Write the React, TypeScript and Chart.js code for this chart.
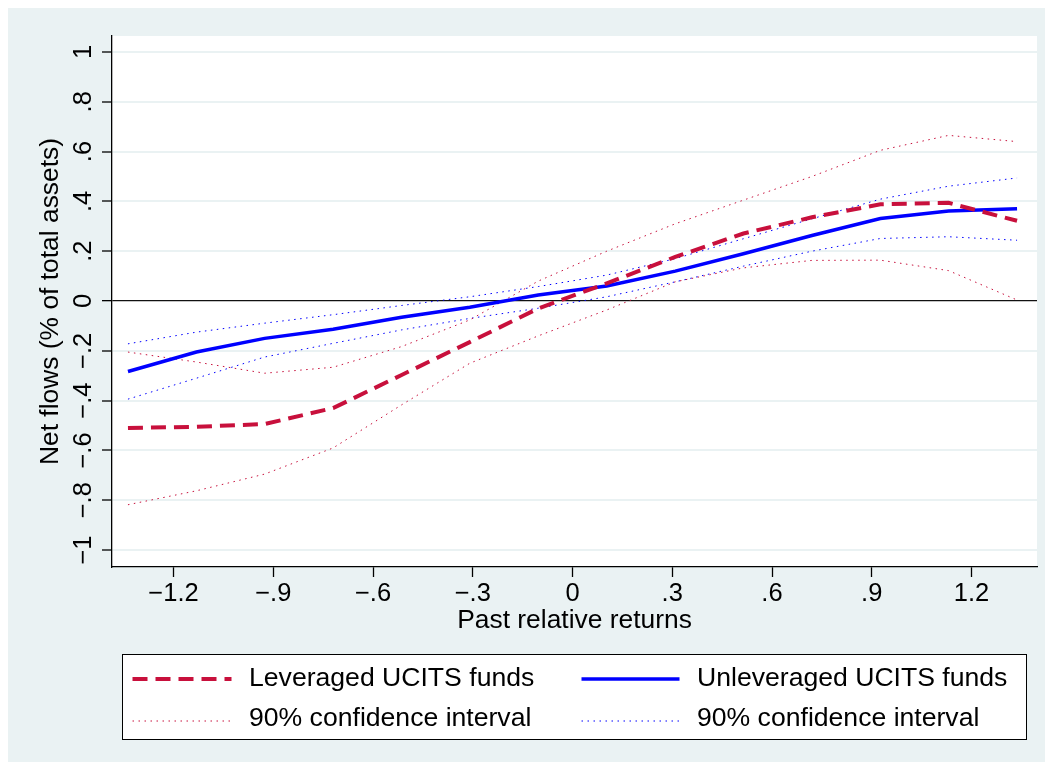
import React, { useEffect, useRef } from 'react';
import { Chart, registerables } from 'chart.js';

Chart.register(...registerables);

// ---- data ----
const returnsX = [-1.337, -1.131, -0.926, -0.72, -0.514, -0.309, -0.103, 0.103, 0.309, 0.514, 0.72, 0.926, 1.131, 1.337];
const leveragedFlows = [-0.51, -0.505, -0.494, -0.43, -0.297, -0.165, -0.03, 0.071, 0.177, 0.271, 0.336, 0.388, 0.394, 0.322];
const leveragedUpper = [-0.205, -0.245, -0.29, -0.266, -0.183, -0.076, 0.08, 0.2, 0.31, 0.405, 0.5, 0.605, 0.665, 0.64];
const leveragedLower = [-0.818, -0.762, -0.695, -0.59, -0.417, -0.25, -0.14, -0.036, 0.077, 0.133, 0.163, 0.164, 0.122, 0.004];
const unleveragedFlows = [-0.283, -0.205, -0.15, -0.113, -0.065, -0.025, 0.024, 0.06, 0.12, 0.19, 0.263, 0.331, 0.361, 0.37];
const unleveragedUpper = [-0.172, -0.125, -0.089, -0.055, -0.018, 0.017, 0.058, 0.104, 0.17, 0.25, 0.33, 0.409, 0.461, 0.494];
const unleveragedLower = [-0.394, -0.31, -0.225, -0.17, -0.116, -0.07, -0.029, 0.017, 0.077, 0.14, 0.2, 0.251, 0.258, 0.244];

const xTickValues = [-1.2, -0.9, -0.6, -0.3, 0, 0.3, 0.6, 0.9, 1.2];
const yTickValues = [-1, -0.8, -0.6, -0.4, -0.2, 0, 0.2, 0.4, 0.6, 0.8, 1];

const xTitle = 'Past relative returns';
const yTitle = 'Net flows (% of total assets)';
const seriesLabels = [
  'Leveraged UCITS funds',
  'Unleveraged UCITS funds',
  '90% confidence interval',
  '90% confidence interval',
];

// ---- styling ----
const FONT = '"Liberation Sans", Arial, Helvetica, sans-serif';
const BG = '#eaf2f3';
const RED = '#c8103c';
const BLUE = '#0000ff';

function stataFormat(v: number): string {
  const r = Math.round(v * 10) / 10;
  if (r === 0) return '0';
  let s = String(Math.abs(r));
  if (s.startsWith('0.')) s = s.slice(1);
  return (r < 0 ? '\u2212' : '') + s;
}

const toPoints = (ys: number[]) => returnsX.map((x, i) => ({ x, y: ys[i] }));

const backgroundPlugin = {
  id: 'stataBackground',
  beforeDraw(chart: any) {
    const { ctx, chartArea } = chart;
    ctx.save();
    ctx.fillStyle = BG;
    ctx.fillRect(0, 0, chart.width, chart.height);
    ctx.fillStyle = '#ffffff';
    ctx.fillRect(chartArea.left, chartArea.top, chartArea.right - chartArea.left, chartArea.bottom - chartArea.top);
    ctx.restore();
  },
};

const legendPlugin = {
  id: 'stataLegend',
  afterDraw(chart: any) {
    const { ctx } = chart;
    const ds = chart.data.datasets;
    const box = { left: 114, top: 646, right: 1018, bottom: 731 };
    ctx.save();
    ctx.fillStyle = '#ffffff';
    ctx.fillRect(box.left, box.top, box.right - box.left, box.bottom - box.top);
    ctx.strokeStyle = '#000000';
    ctx.lineWidth = 1;
    ctx.strokeRect(box.left + 0.5, box.top + 0.5, box.right - box.left, box.bottom - box.top);

    const entries = [
      { dsIndex: 0, sx: 124.5, sw: 99, tx: 241, y: 671, ly: 671 },
      { dsIndex: 1, sx: 573.5, sw: 98, tx: 689, y: 671, ly: 671 },
      { dsIndex: 2, sx: 124.5, sw: 99, tx: 241, y: 711, ly: 713 },
      { dsIndex: 4, sx: 573.5, sw: 98, tx: 689, y: 711, ly: 713 },
    ];
    entries.forEach((e, i) => {
      const d = ds[e.dsIndex];
      ctx.save();
      ctx.strokeStyle = d.borderColor;
      ctx.lineWidth = d.borderWidth;
      ctx.setLineDash(d.borderDash || []);
      ctx.lineCap = 'butt';
      ctx.beginPath();
      ctx.moveTo(e.sx, e.ly);
      ctx.lineTo(e.sx + e.sw, e.ly);
      ctx.stroke();
      ctx.restore();
      ctx.fillStyle = '#000000';
      ctx.font = `26.6px ${FONT}`;
      ctx.textAlign = 'left';
      ctx.textBaseline = 'middle';
      ctx.fillText(seriesLabels[i], e.tx, e.y);
    });
    ctx.restore();
  },
};

export default function App() {
  const ref = useRef<HTMLCanvasElement>(null);

  useEffect(() => {
    const canvas = ref.current;
    if (!canvas) return;
    const chart = new Chart(canvas, {
      type: 'line',
      data: {
        datasets: [
          {
            label: seriesLabels[0],
            data: toPoints(leveragedFlows),
            borderColor: RED,
            borderWidth: 4,
            borderDash: [15, 8],
            pointRadius: 0,
            tension: 0,
            fill: false,
          },
          {
            label: seriesLabels[1],
            data: toPoints(unleveragedFlows),
            borderColor: BLUE,
            borderWidth: 3.5,
            pointRadius: 0,
            tension: 0,
            fill: false,
          },
          {
            label: seriesLabels[2],
            data: toPoints(leveragedUpper),
            borderColor: RED,
            borderWidth: 1,
            borderDash: [1.5, 4.5],
            pointRadius: 0,
            tension: 0,
            fill: false,
          },
          {
            label: seriesLabels[2],
            data: toPoints(leveragedLower),
            borderColor: RED,
            borderWidth: 1,
            borderDash: [1.5, 4.5],
            pointRadius: 0,
            tension: 0,
            fill: false,
          },
          {
            label: seriesLabels[3],
            data: toPoints(unleveragedUpper),
            borderColor: BLUE,
            borderWidth: 1,
            borderDash: [1.5, 4.5],
            pointRadius: 0,
            tension: 0,
            fill: false,
          },
          {
            label: seriesLabels[3],
            data: toPoints(unleveragedLower),
            borderColor: BLUE,
            borderWidth: 1,
            borderDash: [1.5, 4.5],
            pointRadius: 0,
            tension: 0,
            fill: false,
          },
        ],
      },
      options: {
        responsive: false,
        animation: false,
        devicePixelRatio: 1,
        layout: { padding: { top: 28, right: 8, bottom: 125, left: 0 } },
        plugins: {
          legend: { display: false },
          tooltip: { enabled: false },
          title: { display: false },
        },
        scales: {
          x: {
            type: 'linear',
            min: -1.385,
            max: 1.397,
            afterBuildTicks: (scale: any) => {
              scale.ticks = xTickValues.map((v) => ({ value: v }));
            },
            afterFit: (scale: any) => {
              scale.height = 70;
            },
            ticks: {
              autoSkip: false,
              maxRotation: 0,
              minRotation: 0,
              padding: 2,
              color: '#000',
              font: { family: FONT, size: 25.5 },
              callback: (v: any) => stataFormat(Number(v)),
            },
            grid: {
              display: true,
              drawOnChartArea: false,
              drawTicks: true,
              tickLength: 10,
              tickColor: '#000',
              tickWidth: 1.3,
            },
            border: { display: true, color: '#000', width: 1.3 },
            title: {
              display: true,
              text: xTitle,
              color: '#000',
              font: { family: FONT, size: 26.4 },
              padding: { top: 0, bottom: 0 },
            },
          },
          y: {
            type: 'linear',
            min: -1.068,
            max: 1.064,
            afterBuildTicks: (scale: any) => {
              scale.ticks = yTickValues.map((v) => ({ value: v }));
            },
            afterFit: (scale: any) => {
              scale.width = 104;
            },
            ticks: {
              autoSkip: false,
              minRotation: 90,
              maxRotation: 90,
              crossAlign: 'center',
              padding: 0,
              color: '#000',
              font: { family: FONT, size: 25.5 },
              callback: (v: any) => stataFormat(Number(v)),
            },
            grid: {
              display: true,
              drawOnChartArea: true,
              drawTicks: true,
              tickLength: 10,
              tickColor: '#000',
              tickWidth: 1.3,
              color: (ctx: any) => (ctx.tick && ctx.tick.value === 0 ? '#111' : BG),
              lineWidth: (ctx: any) => (ctx.tick && ctx.tick.value === 0 ? 1.3 : 2),
            },
            border: { display: true, color: '#000', width: 1.3 },
            title: {
              display: true,
              text: yTitle,
              color: '#000',
              font: { family: FONT, size: 26.4 },
              padding: { top: 27, bottom: 0 },
            },
          },
        },
      },
      plugins: [backgroundPlugin, legendPlugin],
    } as any);
    return () => chart.destroy();
  }, []);

  return (
    <canvas
      ref={ref}
      width={1037}
      height={754}
      style={{ display: 'block', width: 1037, height: 754 }}
    />
  );
}
